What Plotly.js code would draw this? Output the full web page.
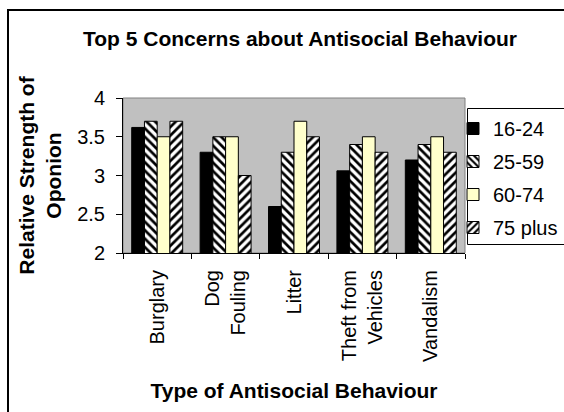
<!DOCTYPE html>
<html>
<head>
<meta charset="utf-8">
<script src="https://cdn.plot.ly/plotly-3.0.1.min.js"></script>
<style>
  html, body { margin: 0; padding: 0; background: #ffffff; overflow: hidden; }
  #chart { width: 564px; height: 412px; }
</style>
</head>
<body>
<div id="chart"></div>
<script>
// ---- data ----
const categories = ["Burglary", "Dog<br>Fouling", "Litter", "Theft from<br>Vehicles", "Vandalism"];
const seriesNames = ["16-24", "25-59", "60-74", "75 plus"];
const age16to24 = [3.62, 3.3, 2.6, 3.06, 3.2];
const age25to59 = [3.7, 3.5, 3.3, 3.4, 3.4];
const age60to74 = [3.5, 3.5, 3.7, 3.5, 3.5];
const age75plus = [3.7, 3.0, 3.5, 3.3, 3.3];
const yTickVals = [2, 2.5, 3, 3.5, 4];
const yTickText = ["2", "2.5", "3", "3.5", "4"];

// ---- layout geometry (pixels) ----
const W = 564, H = 412;
const M = { l: 123, r: 99, t: 98, b: 159 };
const PW = W - M.l - M.r, PH = H - M.t - M.b;
const px = x => (x - M.l) / PW;          // pixel x -> paper x
const py = y => (H - M.b - y) / PH;      // pixel y -> paper y

const FONT = "Arial, 'Liberation Sans', sans-serif";
const outline = { color: "#000000", width: 1 };

const traces = [
  { name: seriesNames[0], y: age16to24, marker: { color: "#000000", line: outline } },
  { name: seriesNames[1], y: age25to59, marker: { color: "#ffffff", line: outline,
      pattern: { shape: "\\", fgcolor: "#000000", bgcolor: "#ffffff", size: 6, solidity: 0.45 } } },
  { name: seriesNames[2], y: age60to74, marker: { color: "#ffffcc", line: outline } },
  { name: seriesNames[3], y: age75plus, marker: { color: "#ffffff", line: outline,
      pattern: { shape: "/", fgcolor: "#000000", bgcolor: "#ffffff", size: 6, solidity: 0.45 } } }
].map((t, i) => Object.assign({ type: "bar", x: categories, legendgroup: "g" + i }, t));

const layout = {
  width: W, height: H,
  margin: Object.assign({ autoexpand: false, pad: 0 }, M),
  paper_bgcolor: "#ffffff",
  plot_bgcolor: "#c0c0c0",
  font: { family: FONT, size: 20, color: "#000000" },
  barmode: "group",
  bargap: 0.255,
  bargroupgap: 0,
  title: {
    text: "<b>Top 5 Concerns about Antisocial Behaviour</b>",
    font: { family: FONT, size: 21, color: "#000000" },
    xref: "paper", x: px(300), xanchor: "center",
    yref: "container", y: 1 - 39 / H, yanchor: "middle"
  },
  xaxis: {
    type: "category",
    showline: true, linecolor: "#000000", linewidth: 1,
    ticks: "outside", tickson: "boundaries", ticklen: 5, tickcolor: "#000000",
    tickangle: -90,
    tickfont: { family: FONT, size: 20, color: "#000000" },
    ticklabelstandoff: 8,
    showgrid: false, zeroline: false,
    automargin: false,
    title: { text: "<b>Type of Antisocial Behaviour</b>", font: { family: FONT, size: 21, color: "#000000" }, standoff: 22 }
  },
  yaxis: {
    range: [2, 4],
    tickvals: yTickVals, ticktext: yTickText,
    showline: true, linecolor: "#000000", linewidth: 1,
    ticks: "outside", ticklen: 6, tickcolor: "#000000",
    tickfont: { family: FONT, size: 20, color: "#000000" },
    ticklabelstandoff: 7,
    showgrid: false, zeroline: false,
    automargin: false,
    title: { text: "<b>Relative Strength of<br>Oponion</b>", font: { family: FONT, size: 21, color: "#000000" }, standoff: 9 }
  },
  showlegend: true,
  legend: {
    x: px(453), xanchor: "left",
    y: py(109), yanchor: "top",
    bgcolor: "rgba(0,0,0,0)", borderwidth: 0,
    traceorder: "grouped", tracegroupgap: 4,
    font: { family: FONT, size: 20, color: "#000000" }
  },
  shapes: [
    // plot area frame
    { type: "rect", xref: "paper", yref: "paper", x0: 0, x1: 1, y0: 0, y1: 1,
      line: { color: "#808080", width: 1 }, layer: "below" },
    // chart area border (cropped at right and bottom)
    { type: "rect", xref: "paper", yref: "paper",
      x0: px(8), x1: px(620), y0: py(460), y1: py(10),
      line: { color: "#000000", width: 2 }, fillcolor: "rgba(0,0,0,0)" },
    // legend box
    { type: "rect", xref: "paper", yref: "paper",
      x0: px(467.5), x1: px(620), y0: py(244.5), y1: py(108.5),
      line: { color: "#000000", width: 1 }, fillcolor: "rgba(0,0,0,0)" }
  ]
};

Plotly.newPlot("chart", traces, layout, { displayModeBar: false, staticPlot: true });
</script>
</body>
</html>
